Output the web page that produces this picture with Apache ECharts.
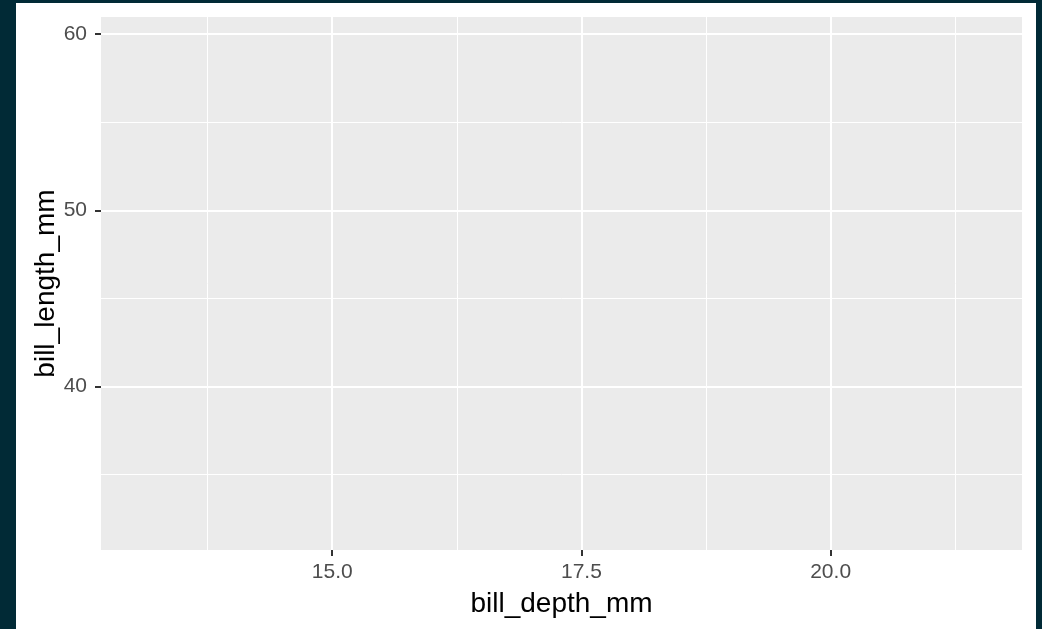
<!DOCTYPE html>
<html>
<head>
<meta charset="utf-8">
<script src="https://cdn.jsdelivr.net/npm/echarts@6/dist/echarts.min.js"></script>
<style>
  html, body { margin: 0; padding: 0; background: #012A36; width: 1042px; height: 629px; overflow: hidden; }
  #chart { position: absolute; left: 16px; top: 3px; width: 1020px; height: 626px; background: #FFFFFF; }
</style>
</head>
<body>
<div id="chart"></div>
<script>
// Axis ranges (ggplot default 5% expansion of the penguins data range)
const xRange = [12.68, 21.92];
const yRange = [30.725, 60.975];
// Tick labels / major gridlines
const xTicks = [15.0, 17.5, 20.0];
const yTicks = [40, 50, 60];
// Minor gridlines
const xMinor = [13.75, 16.25, 18.75, 21.25];
const yMinor = [35, 45, 55];
// Series values (the plot has no points)
const points = [];

const xName = 'bill_depth_mm';
const yName = 'bill_length_mm';

const chart = echarts.init(document.getElementById('chart'), null, { renderer: 'canvas' });

const font = 'Liberation Sans, Arial, sans-serif';

function lineData(xs, ys) {
  return xs.map(v => ({ xAxis: v })).concat(ys.map(v => ({ yAxis: v })));
}

chart.setOption({
  animation: false,
  grid: {
    left: 85, right: 14, top: 14, bottom: 79,
    show: true, backgroundColor: '#EBEBEB', borderWidth: 0
  },
  xAxis: {
    type: 'value',
    min: xRange[0], max: xRange[1],
    name: xName, nameLocation: 'middle', nameGap: 40, nameMoveOverlap: false,
    nameTextStyle: { color: '#000000', fontSize: 28, fontFamily: font },
    axisLine: { show: false },
    axisTick: { show: true, length: 6, customValues: xTicks, lineStyle: { color: '#333333', width: 2 } },
    axisLabel: { customValues: xTicks, margin: 12, color: '#4D4D4D', fontSize: 21, fontFamily: font,
                 formatter: v => Number(v).toFixed(1) },
    splitLine: { show: false }
  },
  yAxis: {
    type: 'value',
    min: yRange[0], max: yRange[1],
    name: yName, nameLocation: 'middle', nameGap: 41, nameRotate: 90, nameMoveOverlap: false,
    nameTextStyle: { color: '#000000', fontSize: 28, fontFamily: font },
    axisLine: { show: false },
    axisTick: { show: true, length: 6, customValues: yTicks, lineStyle: { color: '#333333', width: 2 } },
    axisLabel: { customValues: yTicks, margin: 14, color: '#4D4D4D', fontSize: 21, fontFamily: font,
                 formatter: v => String(Math.round(v)) },
    splitLine: { show: false }
  },
  series: [
    {
      type: 'scatter', data: points, silent: true,
      markLine: {
        silent: true, symbol: ['none', 'none'], label: { show: false },
        lineStyle: { color: '#FFFFFF', width: 1, type: 'solid' },
        emphasis: { disabled: true },
        data: lineData(xMinor, yMinor)
      }
    },
    {
      type: 'scatter', data: [], silent: true,
      markLine: {
        silent: true, symbol: ['none', 'none'], label: { show: false },
        lineStyle: { color: '#FFFFFF', width: 2, type: 'solid' },
        emphasis: { disabled: true },
        data: lineData(xTicks, yTicks)
      }
    }
  ]
});
</script>
</body>
</html>
